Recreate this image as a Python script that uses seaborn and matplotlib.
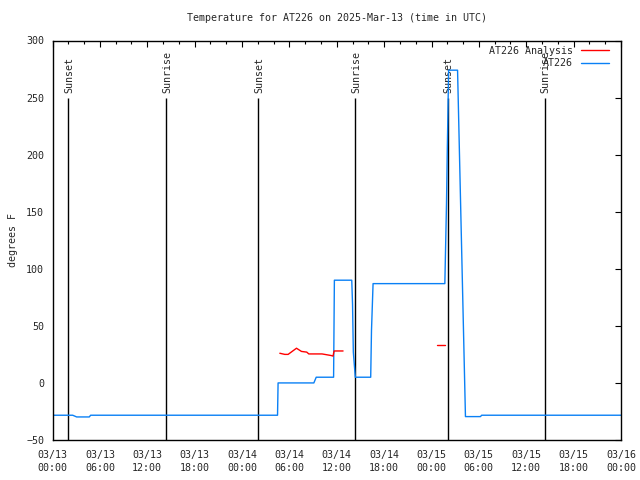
import matplotlib
matplotlib.use("Agg")
import matplotlib.pyplot as plt
from matplotlib.ticker import MultipleLocator
import numpy as np
import pandas as pd
import seaborn as sns

# ---- data (hours since 2025-03-13 00:00 UTC) ----
at226_hours = [0, 2.56, 3.06, 4.66, 4.83, 28.5, 28.57, 33.1, 33.4, 35.6, 35.7,
               37.9, 38.0, 38.1, 38.35, 40.3, 40.4, 40.6, 49.69, 49.9, 50.0, 50.17,
               51.3, 52.3, 54.2, 54.35, 72]
at226_values = [-28.3, -28.3, -29.8, -29.8, -28.3, -28.3, 0, 0, 5, 5, 90,
                90, 69, 27, 5, 5, 46, 87, 87, 157, 204, 274,
                274, -29.5, -29.5, -28.3, -28.3]

analysis1_hours = [28.79, 29.42, 29.84, 30.9, 31.53, 32.2, 32.46, 34.14, 35.3, 35.53, 35.66, 36.8]
analysis1_values = [26, 25, 25, 30.4, 27.6, 27, 25.4, 25.4, 24, 23.5, 28, 28]
analysis2_hours = [48.69, 49.75]
analysis2_values = [33, 33]

sunset_hours = [2.0, 26.02, 50.05]
sunrise_hours = [14.38, 38.35, 62.32]

tick_hours = [0, 6, 12, 18, 24, 30, 36, 42, 48, 54, 60, 66, 72]
tick_labels = ["03/13\n00:00", "03/13\n06:00", "03/13\n12:00", "03/13\n18:00",
               "03/14\n00:00", "03/14\n06:00", "03/14\n12:00", "03/14\n18:00",
               "03/15\n00:00", "03/15\n06:00", "03/15\n12:00", "03/15\n18:00",
               "03/16\n00:00"]

sns.set_style("white")
plt.rcParams['font.family'] = ['DejaVu Sans Mono']
FS = 7.2

fig = plt.figure(figsize=(6.4, 4.8), dpi=100)
ax = fig.add_axes([52.5 / 640, 1 - 440 / 480, (621 - 52.5) / 640, (440 - 40.5) / 480])

# sun lines
for h in sunset_hours:
    ax.vlines(h, -50, 250, color="black", lw=1.0, zorder=1)
    ax.text(h + 0.15, 254, "Sunset", rotation=90, ha="center", va="bottom", fontsize=FS, zorder=1)
for h in sunrise_hours:
    ax.vlines(h, -50, 250, color="black", lw=1.0, zorder=1)
    ax.text(h + 0.15, 254, "Sunrise", rotation=90, ha="center", va="bottom", fontsize=FS, zorder=1)

df_a = pd.DataFrame({"hour": analysis1_hours, "temp": analysis1_values})
df_a2 = pd.DataFrame({"hour": analysis2_hours, "temp": analysis2_values})
df_b = pd.DataFrame({"hour": at226_hours, "temp": at226_values})

sns.lineplot(data=df_a, x="hour", y="temp", color="#ff0000", lw=1.0, ax=ax,
             label="AT226 Analysis", estimator=None, sort=False, zorder=3)
sns.lineplot(data=df_a2, x="hour", y="temp", color="#ff0000", lw=1.0, ax=ax,
             estimator=None, sort=False, zorder=3)
sns.lineplot(data=df_b, x="hour", y="temp", color="#0a80f5", lw=1.0, ax=ax,
             label="AT226", estimator=None, sort=False, zorder=2)

ax.set_xlim(0, 72)
ax.set_ylim(-50, 300)
ax.set_xticks(tick_hours)
ax.set_xticklabels(tick_labels, fontsize=FS, linespacing=1.45)
ax.xaxis.set_minor_locator(MultipleLocator(2))
ax.yaxis.set_major_locator(MultipleLocator(50))
ax.tick_params(axis="y", labelsize=FS, pad=6)
ax.tick_params(axis="x", pad=7)
ax.tick_params(which="major", direction="in", length=4, width=0.8, top=True, right=True,
               color="black")
ax.tick_params(which="minor", direction="in", length=2.5, width=0.8, top=True, right=True,
               color="black")
for s in ax.spines.values():
    s.set_color("black")
    s.set_linewidth(1.0)
ax.set_xlabel("")
ax.set_ylabel("degrees F", fontsize=FS, labelpad=6)
ax.set_title("Temperature for AT226 on 2025-Mar-13 (time in UTC)", fontsize=FS, pad=14)

leg = ax.legend(loc="upper right", frameon=False, markerfirst=False, fontsize=FS,
                handlelength=2.8, handletextpad=0.8, labelspacing=0.25,
                borderaxespad=0.3, bbox_to_anchor=(0.991, 1.005))

fig.savefig("out.png", dpi=100, facecolor="white")
